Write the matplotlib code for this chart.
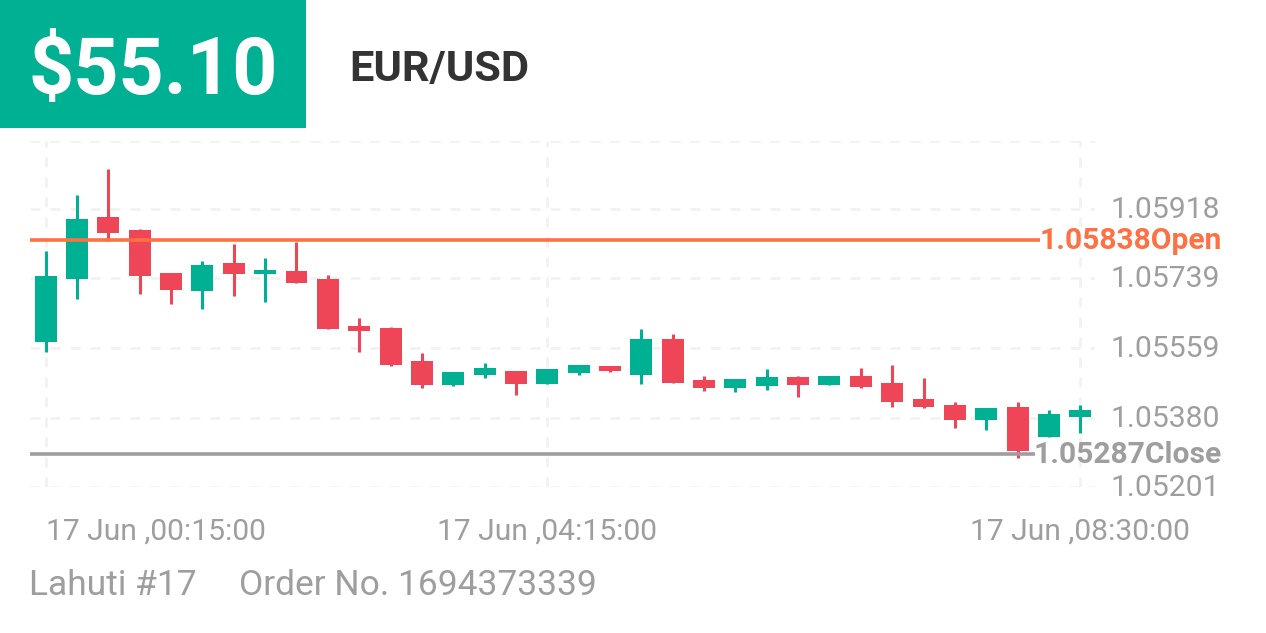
import matplotlib
matplotlib.use("Agg")
import matplotlib.pyplot as plt
import matplotlib.patches as mpatches
from matplotlib.transforms import ScaledTranslation

plt.rcParams['font.family'] = ['Roboto', 'DejaVu Sans']

# prices
opens = [1.05574, 1.05737, 1.05898, 1.05863, 1.05752, 1.05707, 1.05778, 1.05749, 1.05758, 1.05737, 1.05616, 1.05611,
         1.05525, 1.05465, 1.05489, 1.05500, 1.05466, 1.05495, 1.05513, 1.05489, 1.05582, 1.05477, 1.05457, 1.05462,
         1.05484, 1.05465, 1.05487, 1.05469, 1.05429, 1.05413, 1.05373, 1.05407, 1.05330, 1.05381]
closes = [1.05745, 1.05892, 1.05855, 1.05746, 1.05708, 1.05774, 1.05750, 1.05760, 1.05728, 1.05609, 1.05603, 1.05516,
          1.05463, 1.05498, 1.05507, 1.05466, 1.05504, 1.05515, 1.05501, 1.05582, 1.05468, 1.05456, 1.05479, 1.05484,
          1.05465, 1.05487, 1.05458, 1.05421, 1.05406, 1.05373, 1.05405, 1.05294, 1.05389, 1.05400]
highs = [1.05810, 1.05954, 1.06021, 1.05865, 1.05752, 1.05784, 1.05828, 1.05791, 1.05833, 1.05747, 1.05636, 1.05614,
         1.05547, 1.05498, 1.05521, 1.05500, 1.05504, 1.05515, 1.05513, 1.05608, 1.05595, 1.05487, 1.05479, 1.05505,
         1.05486, 1.05487, 1.05507, 1.05516, 1.05481, 1.05420, 1.05405, 1.05420, 1.05400, 1.05413]
lows = [1.05550, 1.05685, 1.05834, 1.05698, 1.05672, 1.05660, 1.05694, 1.05679, 1.05726, 1.05609, 1.05550, 1.05513,
        1.05456, 1.05462, 1.05482, 1.05439, 1.05466, 1.05490, 1.05498, 1.05467, 1.05468, 1.05449, 1.05445, 1.05451,
        1.05432, 1.05464, 1.05456, 1.05407, 1.05405, 1.05354, 1.05349, 1.05276, 1.05330, 1.05340]

y_ticks = [1.05201, 1.05380, 1.05559, 1.05739, 1.05918]
y_top = 1.06093
x_ticks = [0, 16, 33]
x_labels = ['17 Jun ,00:15:00', '17 Jun ,04:15:00', '17 Jun ,08:30:00']
open_price = 1.05838
close_price = 1.05287

GREEN = '#00B092'
RED = '#EE4656'
ORANGE = '#FF7043'
GRAY = '#9E9E9E'
W, H = 1266, 633

fig = plt.figure(figsize=(W / 100, H / 100), dpi=100)
ax = fig.add_axes([30 / W, 1 - 487 / H, (1095 - 30) / W, (487 - 141) / H])
ax.set_xlim(-0.5, 33.47)
ax.set_ylim(y_ticks[0], y_top)

for s in ax.spines.values():
    s.set_visible(False)

ax.set_axisbelow(True)
ax.grid(True, color='#F2F2F2', lw=2, linestyle=(0, (3.6, 3.6)))

ax.yaxis.tick_right()
ax.set_yticks(y_ticks + [y_top], ['%.5f' % v for v in y_ticks] + [''])
ax.tick_params(axis='y', length=0, pad=11.5, labelsize=21.7, labelcolor=GRAY)
ax.set_xticks(x_ticks, x_labels)
ax.tick_params(axis='x', length=0, pad=22, labelsize=21.6, labelcolor=GRAY)
ax.get_xticklabels()[0].set_ha('left')

# tick labels sit a little above their gridlines
up = ScaledTranslation(0, 2 / 100, fig.dpi_scale_trans)
for lab in ax.get_yticklabels():
    lab.set_transform(lab.get_transform() + up)

for i in range(len(opens)):
    c = GREEN if closes[i] >= opens[i] else RED
    ax.vlines(i, lows[i], highs[i], color=c, lw=2.2, zorder=3)
    ax.bar(i, abs(closes[i] - opens[i]), bottom=min(opens[i], closes[i]), width=0.7, color=c, zorder=3)

# reference lines stop short of their labels
ax.plot([-0.5, 31.7], [open_price, open_price], color=ORANGE, lw=2.6, zorder=4, solid_capstyle='butt')
ax.plot([-0.5, 31.56], [close_price, close_price], color=GRAY, lw=2.6, zorder=4, solid_capstyle='butt')
tr = ax.get_yaxis_transform() + ScaledTranslation(0, 1.5 / 100, fig.dpi_scale_trans)
label_x = (1222 - 30) / 1065
ax.text(label_x, open_price, '%.5fOpen' % open_price, transform=tr, ha='right', va='center_baseline',
        color=ORANGE, fontsize=21.6, fontweight='bold', clip_on=False, zorder=5)
ax.text(label_x, close_price, '%.5fClose' % close_price, transform=tr, ha='right', va='center_baseline',
        color=GRAY, fontsize=21.6, fontweight='bold', clip_on=False, zorder=5)

# header
fig.add_artist(mpatches.Rectangle((0, 1 - 128 / H), 306 / W, 128 / H, transform=fig.transFigure, color=GREEN, lw=0))
fig.text(28 / W, 1 - 94 / H, '$55.10', color='white', fontsize=57, fontweight='bold', va='baseline')
fig.text(349 / W, 1 - 81 / H, 'EUR/USD', color='#333333', fontsize=31.2, fontweight='bold', va='baseline')

# footer
fig.text(29 / W, 1 - 595 / H, 'Lahuti #17', color=GRAY, fontsize=25.5, va='baseline')
fig.text(239 / W, 1 - 595 / H, 'Order No. 1694373339', color=GRAY, fontsize=25.5, va='baseline')

fig.savefig('out.png', dpi=100)
